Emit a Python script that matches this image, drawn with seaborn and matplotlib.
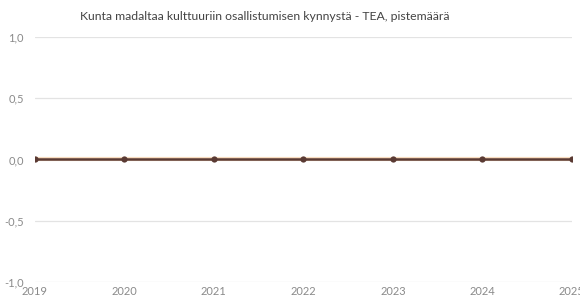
import matplotlib
matplotlib.use("Agg")
import matplotlib.pyplot as plt
import seaborn as sns
import pandas as pd

years = [2019, 2020, 2021, 2022, 2023, 2024, 2025]
values_back = [0, 0, 0, 0, 0, 0, 0]
values_front = [0, 0, 0, 0, 0, 0, 0]
y_ticks = [-1.0, -0.5, 0.0, 0.5, 1.0]
y_labels = ["-1,0", "-0,5", "0,0", "0,5", "1,0"]
title = "Kunta madaltaa kulttuuriin osallistumisen kynnystä - TEA, pistemäärä"

sns.set_theme(style="white")
plt.rcParams["font.family"] = ["Lato", "DejaVu Sans"]

df_back = pd.DataFrame({"year": years, "value": values_back})
df_front = pd.DataFrame({"year": years, "value": values_front})

fig = plt.figure(figsize=(5.8, 2.98), dpi=100)
ax = fig.add_axes([0.060, 0.054, 0.926, 0.822])

for yt in y_ticks:
    ax.axhline(yt, color="#e3e3e3", lw=0.9, zorder=0)

sns.lineplot(data=df_back, x="year", y="value", ax=ax, color="#f8dcc0", lw=3.0,
             zorder=2, legend=False)
sns.lineplot(data=df_front, x="year", y="value", ax=ax, color="#5a3a33", lw=1.8,
             marker="o", markersize=4.5, markeredgewidth=0, zorder=3, legend=False)

ax.set_xlim(2019, 2025)
ax.set_ylim(-1.0, 1.0)
ax.set_yticks(y_ticks)
ax.set_yticklabels(y_labels)
ax.set_xticks(years)
ax.set_xticklabels([str(y) for y in years])
ax.tick_params(axis="both", length=0, labelsize=8, colors="#8a8a8a")
ax.tick_params(axis="x", pad=3)
ax.tick_params(axis="y", pad=8)
for lab in ax.get_xticklabels():
    lab.set_clip_on(False)
for s in ax.spines.values():
    s.set_visible(False)
ax.set_xlabel("")
ax.set_ylabel("")
fig.text(0.457, 0.943, title, ha="center", va="center", fontsize=8.8, color="#444444")

fig.savefig("out.png", dpi=100)
